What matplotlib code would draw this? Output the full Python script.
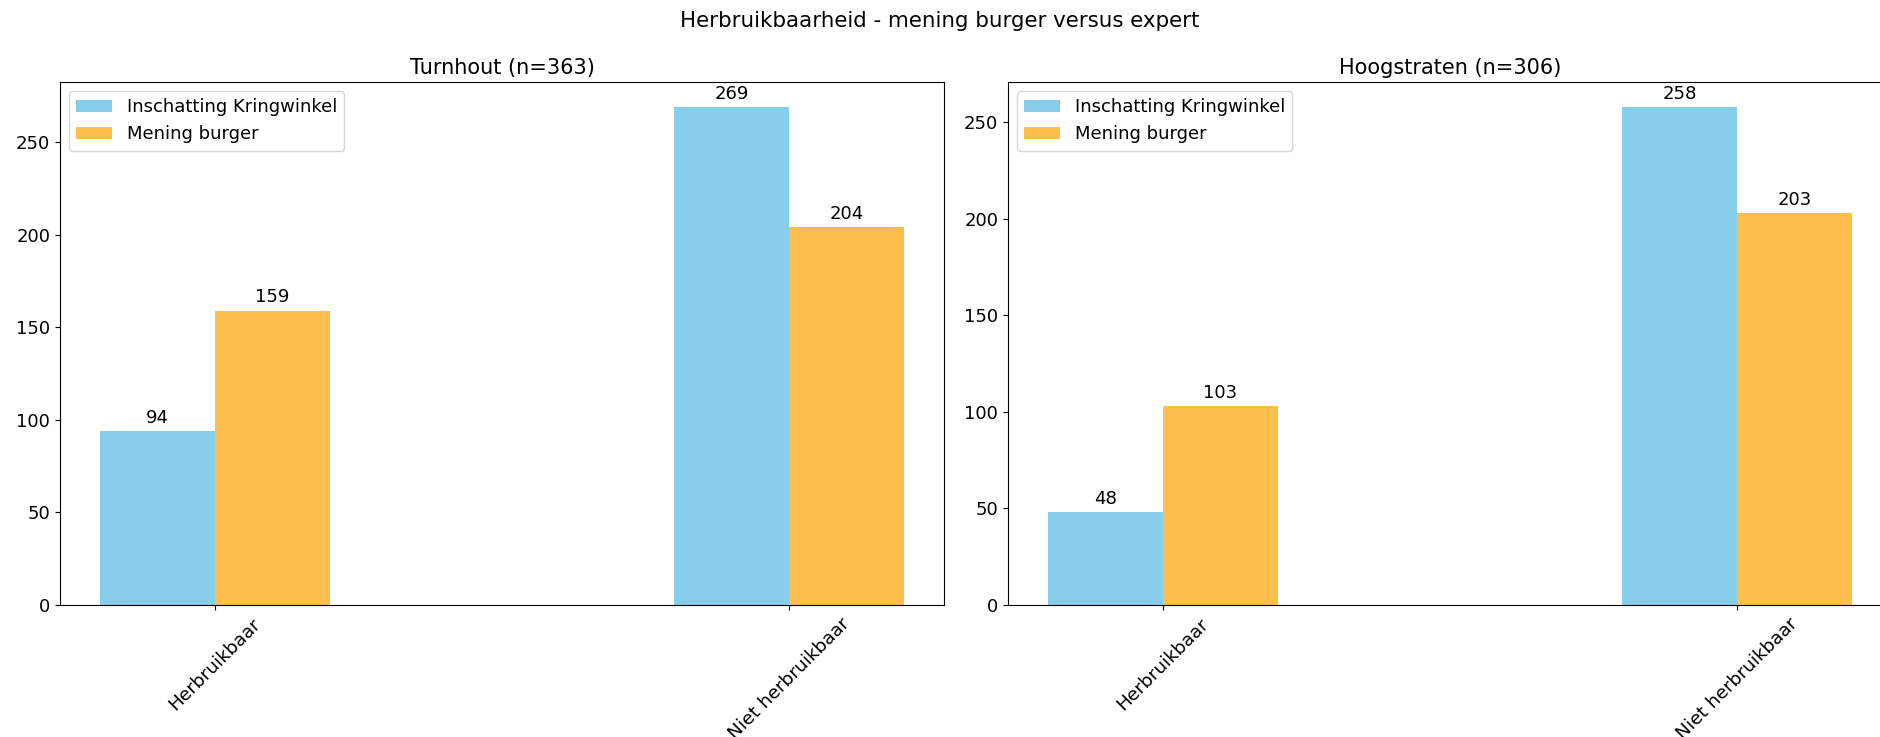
import matplotlib
matplotlib.use("Agg")
import matplotlib.pyplot as plt
import numpy as np

categories = ["Herbruikbaar", "Niet herbruikbaar"]
series_names = ["Inschatting Kringwinkel", "Mening burger"]
turnhout_kring = [94, 269]
turnhout_burger = [159, 204]
hoog_kring = [48, 258]
hoog_burger = [103, 203]
titles = ["Turnhout (n=363)", "Hoogstraten (n=306)"]
suptitle = "Herbruikbaarheid - mening burger versus expert"

fig = plt.figure(figsize=(18.8, 7.37), dpi=100)
W, H = 1880, 737
ax1 = fig.add_axes([60 / W, 1 - 605 / H, (944 - 60) / W, (605 - 82) / H])
ax2 = fig.add_axes([1008 / W, 1 - 605 / H, (944 - 60) / W, (605 - 82) / H])

x = np.arange(len(categories))
w = 0.2
for ax, k, b, t in [(ax1, turnhout_kring, turnhout_burger, titles[0]),
                    (ax2, hoog_kring, hoog_burger, titles[1])]:
    r1 = ax.bar(x - w / 2, k, w, color="skyblue", label=series_names[0])
    r2 = ax.bar(x + w / 2, b, w, color="orange", alpha=0.7, label=series_names[1])
    ax.bar_label(r1, padding=3, fontsize=13)
    ax.bar_label(r2, padding=3, fontsize=13)
    ax.set_xticks(x)
    ax.set_xticklabels(categories, rotation=45, fontsize=13.3)
    ax.tick_params(axis="y", labelsize=13)
    ax.set_title(t, fontsize=15)
    ax.legend(loc="upper left", fontsize=13)

fig.suptitle(suptitle, fontsize=15.4, y=0.985)
fig.savefig("out.png", dpi=100)
